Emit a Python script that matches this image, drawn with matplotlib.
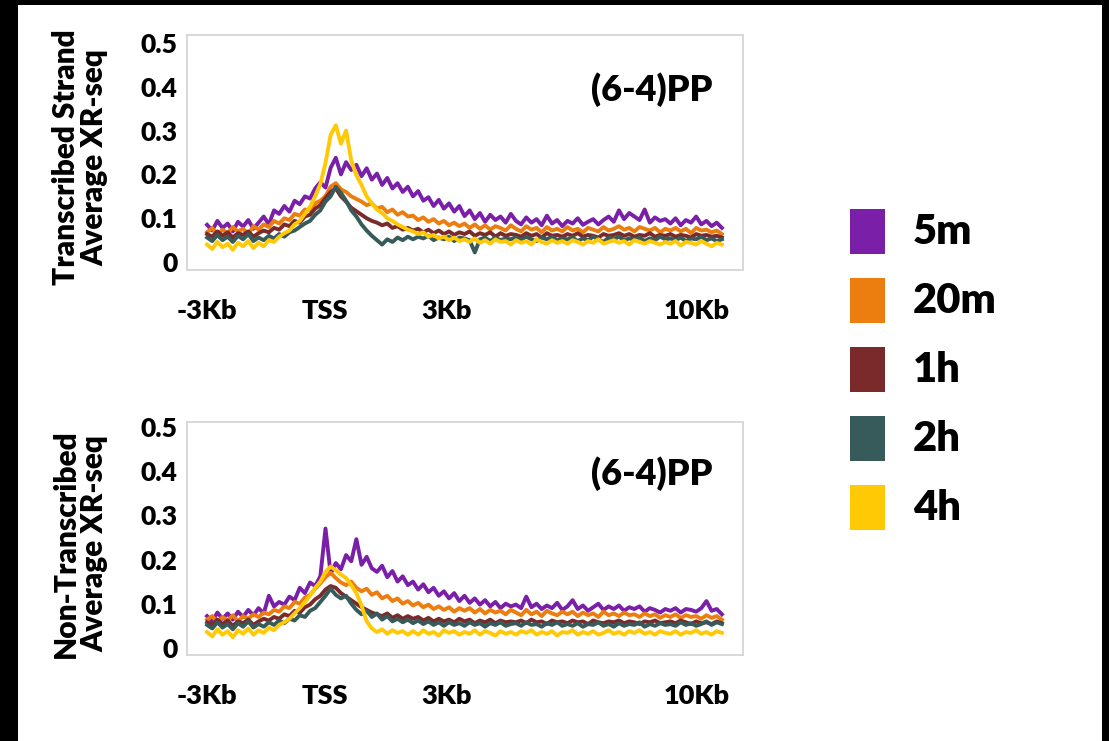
import numpy as np
import matplotlib
matplotlib.use("Agg")
import matplotlib.pyplot as plt
from matplotlib.patches import Rectangle

plt.rcParams['font.family'] = ['Lato', 'DejaVu Sans']
plt.rcParams['font.weight'] = 'bold'

labels = ['5m', '20m', '1h', '2h', '4h']
colors = ['#7a1fa8', '#ec7e10', '#7a2a2a', '#375a5a', '#ffc906']

xtick_pos = [0, 22.9, 46.6, 95.1]
xtick_lab = ['-3Kb', 'TSS', '3Kb', '10Kb']
ytick_pos = [0, 0.1, 0.2, 0.3, 0.4, 0.5]
ytick_lab = ['0', '0.1', '0.2', '0.3', '0.4', '0.5']

# transcribed strand
ts_5m = [0.085, 0.072, 0.094, 0.078, 0.088, 0.070, 0.092, 0.081, 0.096, 0.076,
         0.090, 0.104, 0.086, 0.118, 0.110, 0.128, 0.115, 0.140, 0.132, 0.150,
         0.145, 0.168, 0.182, 0.170, 0.215, 0.238, 0.200, 0.228, 0.210, 0.222,
         0.196, 0.214, 0.188, 0.202, 0.176, 0.192, 0.168, 0.180, 0.160, 0.172,
         0.150, 0.162, 0.140, 0.148, 0.128, 0.142, 0.122, 0.134, 0.115, 0.128,
         0.105, 0.118, 0.098, 0.112, 0.092, 0.108, 0.096, 0.104, 0.090, 0.110,
         0.094, 0.086, 0.102, 0.090, 0.098, 0.084, 0.106, 0.088, 0.096, 0.082,
         0.094, 0.088, 0.100, 0.085, 0.092, 0.098, 0.086, 0.096, 0.104, 0.092,
         0.118, 0.098, 0.112, 0.104, 0.096, 0.120, 0.090, 0.102, 0.094, 0.098,
         0.088, 0.100, 0.084, 0.096, 0.090, 0.104, 0.086, 0.094, 0.082, 0.090, 0.078]
ts_20m = [0.068, 0.078, 0.062, 0.074, 0.066, 0.080, 0.070, 0.076, 0.064, 0.082,
          0.074, 0.086, 0.080, 0.094, 0.088, 0.100, 0.096, 0.110, 0.106, 0.120,
          0.118, 0.134, 0.140, 0.150, 0.172, 0.180, 0.166, 0.160, 0.150, 0.144,
          0.138, 0.130, 0.134, 0.122, 0.126, 0.114, 0.120, 0.108, 0.114, 0.104,
          0.106, 0.096, 0.102, 0.092, 0.098, 0.088, 0.094, 0.084, 0.090, 0.082,
          0.088, 0.078, 0.086, 0.076, 0.084, 0.074, 0.082, 0.078, 0.072, 0.084,
          0.076, 0.070, 0.082, 0.074, 0.078, 0.068, 0.080, 0.072, 0.076, 0.070,
          0.080, 0.072, 0.076, 0.068, 0.078, 0.074, 0.070, 0.080, 0.072, 0.076,
          0.082, 0.074, 0.078, 0.070, 0.080, 0.076, 0.072, 0.078, 0.068, 0.076,
          0.072, 0.078, 0.070, 0.076, 0.066, 0.078, 0.072, 0.074, 0.068, 0.072, 0.064]
ts_1h = [0.064, 0.058, 0.070, 0.060, 0.068, 0.056, 0.066, 0.062, 0.070, 0.058,
         0.066, 0.072, 0.068, 0.078, 0.074, 0.086, 0.082, 0.094, 0.090, 0.104,
         0.108, 0.122, 0.130, 0.146, 0.160, 0.168, 0.150, 0.138, 0.124, 0.116,
         0.108, 0.100, 0.094, 0.090, 0.084, 0.088, 0.078, 0.082, 0.074, 0.078,
         0.072, 0.076, 0.068, 0.074, 0.066, 0.072, 0.064, 0.070, 0.062, 0.068,
         0.064, 0.070, 0.060, 0.066, 0.062, 0.068, 0.058, 0.066, 0.060, 0.064,
         0.062, 0.058, 0.066, 0.060, 0.064, 0.056, 0.066, 0.060, 0.062, 0.058,
         0.064, 0.060, 0.066, 0.058, 0.062, 0.060, 0.056, 0.064, 0.060, 0.062,
         0.066, 0.060, 0.064, 0.058, 0.062, 0.060, 0.066, 0.058, 0.062, 0.060,
         0.064, 0.058, 0.062, 0.060, 0.056, 0.064, 0.060, 0.062, 0.058, 0.060, 0.056]
ts_2h = [0.056, 0.048, 0.062, 0.050, 0.058, 0.046, 0.060, 0.052, 0.064, 0.048,
         0.056, 0.050, 0.060, 0.054, 0.064, 0.058, 0.068, 0.072, 0.080, 0.088,
         0.094, 0.108, 0.118, 0.138, 0.150, 0.172, 0.158, 0.140, 0.118, 0.104,
         0.086, 0.072, 0.060, 0.050, 0.040, 0.052, 0.046, 0.056, 0.050, 0.058,
         0.052, 0.058, 0.054, 0.060, 0.050, 0.056, 0.052, 0.058, 0.048, 0.056,
         0.054, 0.050, 0.022, 0.052, 0.056, 0.048, 0.056, 0.050, 0.054, 0.052,
         0.056, 0.050, 0.058, 0.052, 0.048, 0.056, 0.052, 0.058, 0.050, 0.054,
         0.052, 0.056, 0.048, 0.054, 0.050, 0.058, 0.052, 0.046, 0.056, 0.052,
         0.058, 0.050, 0.054, 0.052, 0.056, 0.048, 0.054, 0.050, 0.058, 0.052,
         0.054, 0.050, 0.056, 0.048, 0.054, 0.052, 0.058, 0.050, 0.054, 0.048, 0.052]
ts_4h = [0.040, 0.030, 0.046, 0.034, 0.042, 0.028, 0.044, 0.036, 0.048, 0.032,
         0.044, 0.036, 0.050, 0.046, 0.058, 0.066, 0.072, 0.086, 0.094, 0.110,
         0.126, 0.150, 0.178, 0.226, 0.290, 0.312, 0.270, 0.300, 0.232, 0.198,
         0.176, 0.150, 0.134, 0.120, 0.112, 0.100, 0.094, 0.086, 0.080, 0.074,
         0.070, 0.064, 0.068, 0.058, 0.062, 0.054, 0.058, 0.050, 0.056, 0.048,
         0.052, 0.046, 0.054, 0.044, 0.050, 0.042, 0.052, 0.046, 0.048, 0.040,
         0.050, 0.044, 0.048, 0.040, 0.052, 0.046, 0.042, 0.050, 0.044, 0.048,
         0.042, 0.050, 0.046, 0.040, 0.048, 0.044, 0.052, 0.042, 0.046, 0.050,
         0.044, 0.048, 0.040, 0.050, 0.046, 0.042, 0.048, 0.044, 0.040, 0.046,
         0.042, 0.048, 0.038, 0.046, 0.044, 0.040, 0.048, 0.042, 0.036, 0.044, 0.040]

# non-transcribed strand
nts_5m = [0.072, 0.060, 0.080, 0.066, 0.078, 0.064, 0.082, 0.070, 0.086, 0.074,
          0.090, 0.078, 0.118, 0.094, 0.104, 0.098, 0.116, 0.108, 0.136, 0.124,
          0.148, 0.140, 0.162, 0.270, 0.168, 0.192, 0.178, 0.210, 0.196, 0.246,
          0.188, 0.206, 0.180, 0.172, 0.186, 0.160, 0.174, 0.150, 0.162, 0.142,
          0.150, 0.132, 0.144, 0.126, 0.136, 0.118, 0.128, 0.112, 0.124, 0.106,
          0.118, 0.102, 0.112, 0.098, 0.108, 0.094, 0.104, 0.090, 0.100, 0.094,
          0.098, 0.090, 0.116, 0.092, 0.100, 0.088, 0.096, 0.090, 0.102, 0.086,
          0.094, 0.108, 0.088, 0.096, 0.084, 0.092, 0.100, 0.086, 0.094, 0.088,
          0.096, 0.084, 0.092, 0.088, 0.094, 0.082, 0.090, 0.086, 0.080, 0.088,
          0.084, 0.090, 0.080, 0.088, 0.086, 0.082, 0.090, 0.106, 0.084, 0.088, 0.076]
nts_20m = [0.064, 0.072, 0.058, 0.070, 0.062, 0.074, 0.060, 0.072, 0.066, 0.076,
           0.070, 0.080, 0.076, 0.086, 0.082, 0.094, 0.090, 0.104, 0.100, 0.114,
           0.120, 0.134, 0.146, 0.160, 0.170, 0.158, 0.148, 0.142, 0.150, 0.136,
           0.128, 0.134, 0.120, 0.126, 0.112, 0.118, 0.106, 0.112, 0.100, 0.106,
           0.096, 0.102, 0.092, 0.098, 0.088, 0.094, 0.086, 0.092, 0.082, 0.090,
           0.084, 0.090, 0.080, 0.088, 0.078, 0.086, 0.080, 0.084, 0.076, 0.086,
           0.080, 0.074, 0.086, 0.076, 0.082, 0.072, 0.084, 0.078, 0.074, 0.082,
           0.076, 0.082, 0.072, 0.080, 0.074, 0.078, 0.070, 0.082, 0.074, 0.078,
           0.072, 0.080, 0.074, 0.076, 0.070, 0.078, 0.072, 0.076, 0.068, 0.074,
           0.070, 0.076, 0.068, 0.074, 0.070, 0.072, 0.066, 0.074, 0.068, 0.072, 0.064]
nts_1h = [0.058, 0.052, 0.064, 0.054, 0.062, 0.050, 0.060, 0.056, 0.064, 0.052,
          0.060, 0.066, 0.062, 0.070, 0.066, 0.076, 0.072, 0.084, 0.080, 0.092,
          0.098, 0.110, 0.118, 0.132, 0.140, 0.136, 0.124, 0.116, 0.108, 0.100,
          0.092, 0.086, 0.080, 0.076, 0.072, 0.078, 0.068, 0.074, 0.066, 0.072,
          0.066, 0.070, 0.062, 0.068, 0.060, 0.066, 0.060, 0.064, 0.058, 0.066,
          0.060, 0.064, 0.056, 0.062, 0.058, 0.064, 0.056, 0.062, 0.058, 0.060,
          0.058, 0.062, 0.056, 0.064, 0.058, 0.060, 0.054, 0.062, 0.058, 0.060,
          0.056, 0.062, 0.058, 0.060, 0.054, 0.062, 0.058, 0.056, 0.060, 0.058,
          0.062, 0.056, 0.060, 0.058, 0.054, 0.060, 0.058, 0.062, 0.056, 0.058,
          0.060, 0.056, 0.062, 0.058, 0.054, 0.060, 0.056, 0.058, 0.054, 0.060, 0.056]
nts_2h = [0.052, 0.044, 0.058, 0.046, 0.054, 0.042, 0.056, 0.048, 0.060, 0.046,
          0.054, 0.048, 0.058, 0.052, 0.062, 0.056, 0.066, 0.062, 0.074, 0.070,
          0.084, 0.090, 0.104, 0.118, 0.134, 0.120, 0.112, 0.118, 0.100, 0.086,
          0.076, 0.084, 0.070, 0.078, 0.064, 0.072, 0.060, 0.066, 0.058, 0.064,
          0.056, 0.062, 0.054, 0.060, 0.052, 0.058, 0.050, 0.058, 0.052, 0.056,
          0.050, 0.058, 0.052, 0.056, 0.048, 0.056, 0.052, 0.058, 0.050, 0.054,
          0.056, 0.050, 0.058, 0.052, 0.054, 0.048, 0.056, 0.052, 0.058, 0.050,
          0.054, 0.050, 0.056, 0.048, 0.054, 0.052, 0.058, 0.050, 0.054, 0.048,
          0.056, 0.050, 0.054, 0.052, 0.058, 0.048, 0.054, 0.050, 0.056, 0.052,
          0.054, 0.050, 0.058, 0.052, 0.056, 0.050, 0.054, 0.060, 0.052, 0.058, 0.054]
nts_4h = [0.036, 0.026, 0.042, 0.030, 0.038, 0.024, 0.040, 0.032, 0.044, 0.030,
          0.040, 0.034, 0.046, 0.040, 0.052, 0.058, 0.066, 0.078, 0.090, 0.104,
          0.118, 0.136, 0.150, 0.172, 0.184, 0.176, 0.166, 0.158, 0.142, 0.124,
          0.096, 0.060, 0.044, 0.036, 0.042, 0.032, 0.040, 0.034, 0.038, 0.030,
          0.038, 0.030, 0.040, 0.032, 0.036, 0.028, 0.040, 0.034, 0.038, 0.030,
          0.036, 0.032, 0.040, 0.030, 0.038, 0.034, 0.028, 0.038, 0.032, 0.036,
          0.030, 0.038, 0.034, 0.040, 0.030, 0.036, 0.032, 0.038, 0.028, 0.036,
          0.034, 0.040, 0.030, 0.036, 0.032, 0.038, 0.030, 0.034, 0.040, 0.032,
          0.036, 0.030, 0.038, 0.034, 0.040, 0.032, 0.036, 0.030, 0.038, 0.034,
          0.032, 0.038, 0.030, 0.036, 0.034, 0.040, 0.032, 0.036, 0.030, 0.038, 0.034]

panels = [
    ([ts_5m, ts_20m, ts_1h, ts_2h, ts_4h], 'Transcribed Strand\nAverage XR-seq', (-0.018, 0.518), 0.766),
    ([nts_5m, nts_20m, nts_1h, nts_2h, nts_4h], 'Non-Transcribed\nAverage XR-seq', (-0.016, 0.511), 0.78),
]

W, H = 1109, 741
fig = plt.figure(figsize=(W / 100, H / 100), dpi=100, facecolor='black')
# white page inside the black frame
fig.add_artist(Rectangle((18 / W, 0), (1102 - 18) / W, (741 - 5) / H,
                         transform=fig.transFigure, facecolor='white',
                         edgecolor='none', zorder=0))

boxes = [(35, 270), (422, 655)]
for (series, ylab, ylim, ty), (top, bot) in zip(panels, boxes):
    ax = fig.add_axes([187 / W, 1 - bot / H, (743 - 187) / W, (bot - top) / H])
    for vals, c in zip(series, colors):
        ax.plot(np.arange(len(vals)), vals, color=c, lw=2.8)
    ax.set_xlim(-3.9, 104.1)
    ax.set_ylim(*ylim)
    ax.set_xticks(xtick_pos)
    ax.set_xticklabels(xtick_lab, fontsize=19.5, fontweight='heavy')
    ax.set_yticks(ytick_pos)
    ax.set_yticklabels(ytick_lab, fontsize=19, fontweight='heavy')
    ax.tick_params(length=0)
    ax.tick_params(axis='x', pad=21)
    ax.tick_params(axis='y', pad=7)
    for s in ax.spines.values():
        s.set_color('#d6d6d6')
        s.set_linewidth(1.3)
    ax.text(0.835, ty, '(6-4)PP', transform=ax.transAxes, ha='center',
            va='center', fontsize=26, fontweight='heavy')
    fig.text(80 / W, 1 - ((top + bot) / 2 + 5) / H, ylab, rotation=90,
             ha='center', va='center', multialignment='center',
             fontsize=21.5, fontweight='heavy', linespacing=1.0)

# legend squares + labels
for i, (lab, c) in enumerate(zip(labels, colors)):
    yc = 232 + 69 * i
    fig.add_artist(Rectangle((850 / W, 1 - (yc + 22) / H), 35 / W, 45 / H,
                             transform=fig.transFigure, facecolor=c,
                             edgecolor='none'))
    fig.text(913 / W, 1 - yc / H, lab, ha='left', va='center',
             fontsize=30, fontweight='heavy')

fig.savefig('out.png', dpi=100, facecolor='black')
